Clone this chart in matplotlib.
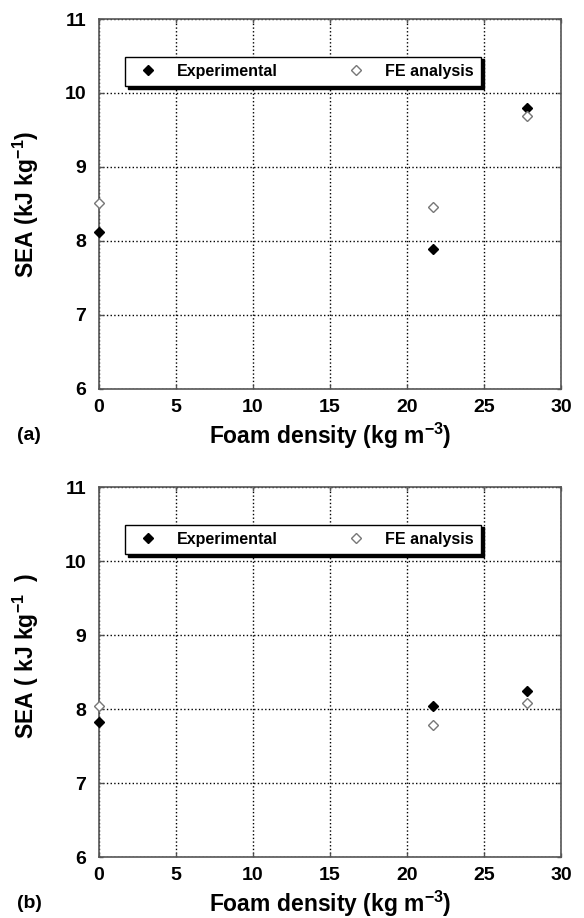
import matplotlib
matplotlib.use('Agg')
from matplotlib import pyplot as plt

# foam density (kg m^-3) and specific energy absorption (kJ kg^-1)
density = [0.0, 21.7, 27.8]
sea_exp_a = [8.12, 7.89, 9.80]
sea_fe_a = [8.51, 8.46, 9.69]
sea_exp_b = [7.82, 8.04, 8.25]
sea_fe_b = [8.04, 7.79, 8.08]

xticks = [0, 5, 10, 15, 20, 25, 30]
yticks = [6, 7, 8, 9, 10, 11]

plt.rcParams['font.family'] = ['Liberation Sans', 'DejaVu Sans']
plt.rcParams['font.weight'] = 'bold'
plt.rcParams['mathtext.fontset'] = 'custom'
plt.rcParams['mathtext.bf'] = 'Liberation Sans:bold'
plt.rcParams['mathtext.rm'] = 'Liberation Sans:bold'
plt.rcParams['mathtext.default'] = 'bf'

fig = plt.figure(figsize=(5.84, 9.18), dpi=100)
ax_a = fig.add_axes([0.1695, 0.5763, 0.791, 0.403])
ax_b = fig.add_axes([0.1695, 0.0664, 0.791, 0.403])

panels = [
    (ax_a, sea_exp_a, sea_fe_a, 'SEA (kJ kg$^{-1}$)', '(a)', 0.5),
    (ax_b, sea_exp_b, sea_fe_b, 'SEA ( kJ kg$^{-1}$  )', '(b)', 0.545),
]

for ax, exp, fe, ylab, tag, ypos in panels:
    ax.plot(density, exp, linestyle='none', marker='D', ms=5.5,
            mfc='black', mec='black', label='Experimental', zorder=3,
            clip_on=False)
    ax.plot(density, fe, linestyle='none', marker='D', ms=5.5,
            mfc='white', mec='#777777', mew=1.0, label='FE analysis', zorder=3,
            clip_on=False)
    ax.set_xlim(0, 30)
    ax.set_ylim(6, 11)
    ax.set_xticks(xticks)
    ax.set_yticks(yticks)
    ax.grid(True, linestyle=':', color='black', linewidth=1.0)
    ax.tick_params(direction='in', length=3, top=True, right=True,
                   labelsize=14, width=1, color='#555555')
    ax.tick_params(axis='x', pad=7)
    ax.tick_params(axis='y', pad=9)
    for lab in ax.get_xticklabels() + ax.get_yticklabels():
        lab.set_fontweight('bold')
    for sp in ax.spines.values():
        sp.set_color('#555555')
        sp.set_linewidth(1.2)
    ax.set_xlabel('Foam density (kg m$^{-3}$)', fontsize=16.5,
                  fontweight='bold')
    ax.xaxis.set_label_coords(0.5, -0.086)
    ax.set_ylabel(ylab, fontsize=16.5, fontweight='bold')
    ax.yaxis.set_label_coords(-0.125, ypos)
    leg = ax.legend(loc='lower left', bbox_to_anchor=(0.056, 0.819, 0.771, 0.076),
                    mode='expand', ncol=2, frameon=True, fancybox=False,
                    shadow={'color': 'black', 'alpha': 1.0},
                    edgecolor='black', framealpha=1.0, borderaxespad=0,
                    handletextpad=0.8, columnspacing=6.5, borderpad=0.45,
                    prop={'weight': 'bold', 'size': 11.5})
    leg.get_frame().set_linewidth(1.0)
    ax.text(-0.177, -0.125, tag, transform=ax.transAxes, fontsize=14,
            fontweight='bold', ha='left', va='center')

fig.savefig('out.png', dpi=100)
